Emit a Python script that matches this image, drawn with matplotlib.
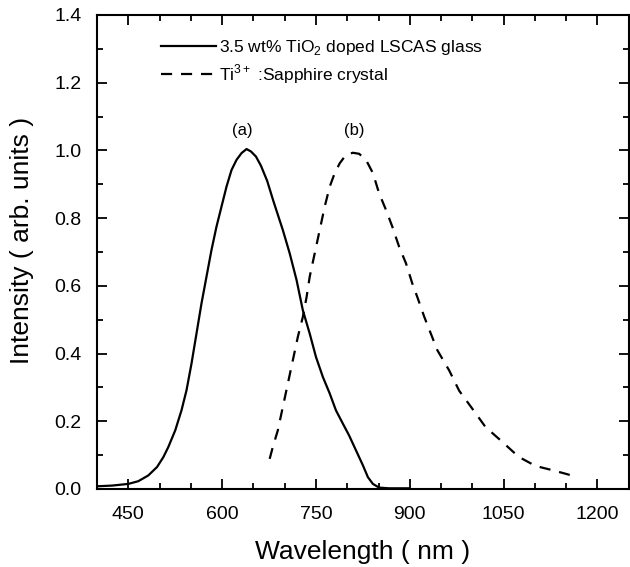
import numpy as np
import matplotlib.pyplot as plt
from matplotlib.ticker import MultipleLocator

plt.rcParams['font.family'] = ['Liberation Sans', 'DejaVu Sans']
plt.rcParams['mathtext.fontset'] = 'custom'
plt.rcParams['mathtext.rm'] = 'Liberation Sans'

# (a) 3.5 wt% TiO2 doped LSCAS glass emission
glass_nm = [400, 424, 450, 466, 482, 496, 506, 514, 525, 535, 543, 551, 559, 567, 575,
            583, 591, 599, 607, 615, 623, 631, 639, 646, 654, 662, 672, 682, 697, 708,
            719, 729, 740, 750, 761, 772, 782, 793, 803, 814, 825, 833, 841, 851, 867, 899]
glass_int = [0.008, 0.010, 0.015, 0.023, 0.040, 0.065, 0.094, 0.124, 0.173, 0.232, 0.291,
             0.370, 0.459, 0.548, 0.627, 0.706, 0.775, 0.834, 0.893, 0.942, 0.972, 0.992,
             1.004, 0.997, 0.982, 0.955, 0.91, 0.85, 0.765, 0.696, 0.617, 0.528, 0.459,
             0.390, 0.331, 0.282, 0.232, 0.193, 0.158, 0.114, 0.070, 0.035, 0.015, 0.004,
             0.002, 0.002]

# (b) Ti3+:sapphire crystal emission
sapph_nm = [676, 681, 689, 697, 705, 713, 721, 729, 735, 740, 748, 756, 764, 772, 780,
            788, 798, 809, 819, 830, 841, 851, 862, 872, 883, 894, 904, 912, 923, 944,
            963, 979, 1000, 1021, 1048, 1074, 1101, 1127, 1151, 1158]
sapph_int = [0.089, 0.124, 0.173, 0.242, 0.311, 0.380, 0.449, 0.508, 0.567, 0.627, 0.696,
             0.765, 0.834, 0.893, 0.933, 0.962, 0.987, 0.993, 0.990, 0.972, 0.933, 0.873,
             0.824, 0.775, 0.715, 0.666, 0.607, 0.567, 0.509, 0.410, 0.350, 0.290, 0.237,
             0.183, 0.139, 0.095, 0.068, 0.056, 0.044, 0.040]

fig = plt.figure(figsize=(6.3, 5.67), dpi=100)
ax = fig.add_axes([0.154, 0.1376, 0.844, 0.836])

ax.plot(glass_nm, glass_int, 'k-', lw=1.6,
        label=r'3.5 wt% TiO$_{2}$ doped LSCAS glass')
ax.plot(sapph_nm, sapph_int, 'k--', lw=1.6, dashes=(5, 4),
        label=r'Ti$^{3+}$ :Sapphire crystal')

ax.text(633, 1.06, '(a)', ha='center', va='center', fontsize=12)
ax.text(812, 1.06, '(b)', ha='center', va='center', fontsize=12)

ax.set_xlim(400, 1250)
ax.set_ylim(0, 1.4)
ax.set_xticks([450, 600, 750, 900, 1050, 1200])
ax.xaxis.set_minor_locator(MultipleLocator(50))
ax.yaxis.set_major_locator(MultipleLocator(0.2))
ax.yaxis.set_minor_locator(MultipleLocator(0.1))
ax.yaxis.set_major_formatter(plt.FormatStrFormatter('%.1f'))

ax.tick_params(which='both', direction='in', top=True, right=True, width=1.3)
ax.tick_params(which='major', length=7, labelsize=14)
ax.tick_params(axis='x', which='major', pad=12)
ax.tick_params(axis='y', which='major', pad=11)
ax.tick_params(which='minor', length=4)
for s in ax.spines.values():
    s.set_linewidth(1.5)

ax.set_xlabel('Wavelength ( nm )', fontsize=19)
ax.set_ylabel('Intensity ( arb. units )', fontsize=19)
ax.xaxis.set_label_coords(0.5, -0.108)
ax.yaxis.set_label_coords(-0.118, 0.524)

ax.legend(loc='upper left', bbox_to_anchor=(0.1, 0.974), frameon=False,
          fontsize=12.5, handlelength=3.2, handletextpad=0.15, labelspacing=0.3,
          borderaxespad=0.2)

fig.savefig('out.png', dpi=100)
